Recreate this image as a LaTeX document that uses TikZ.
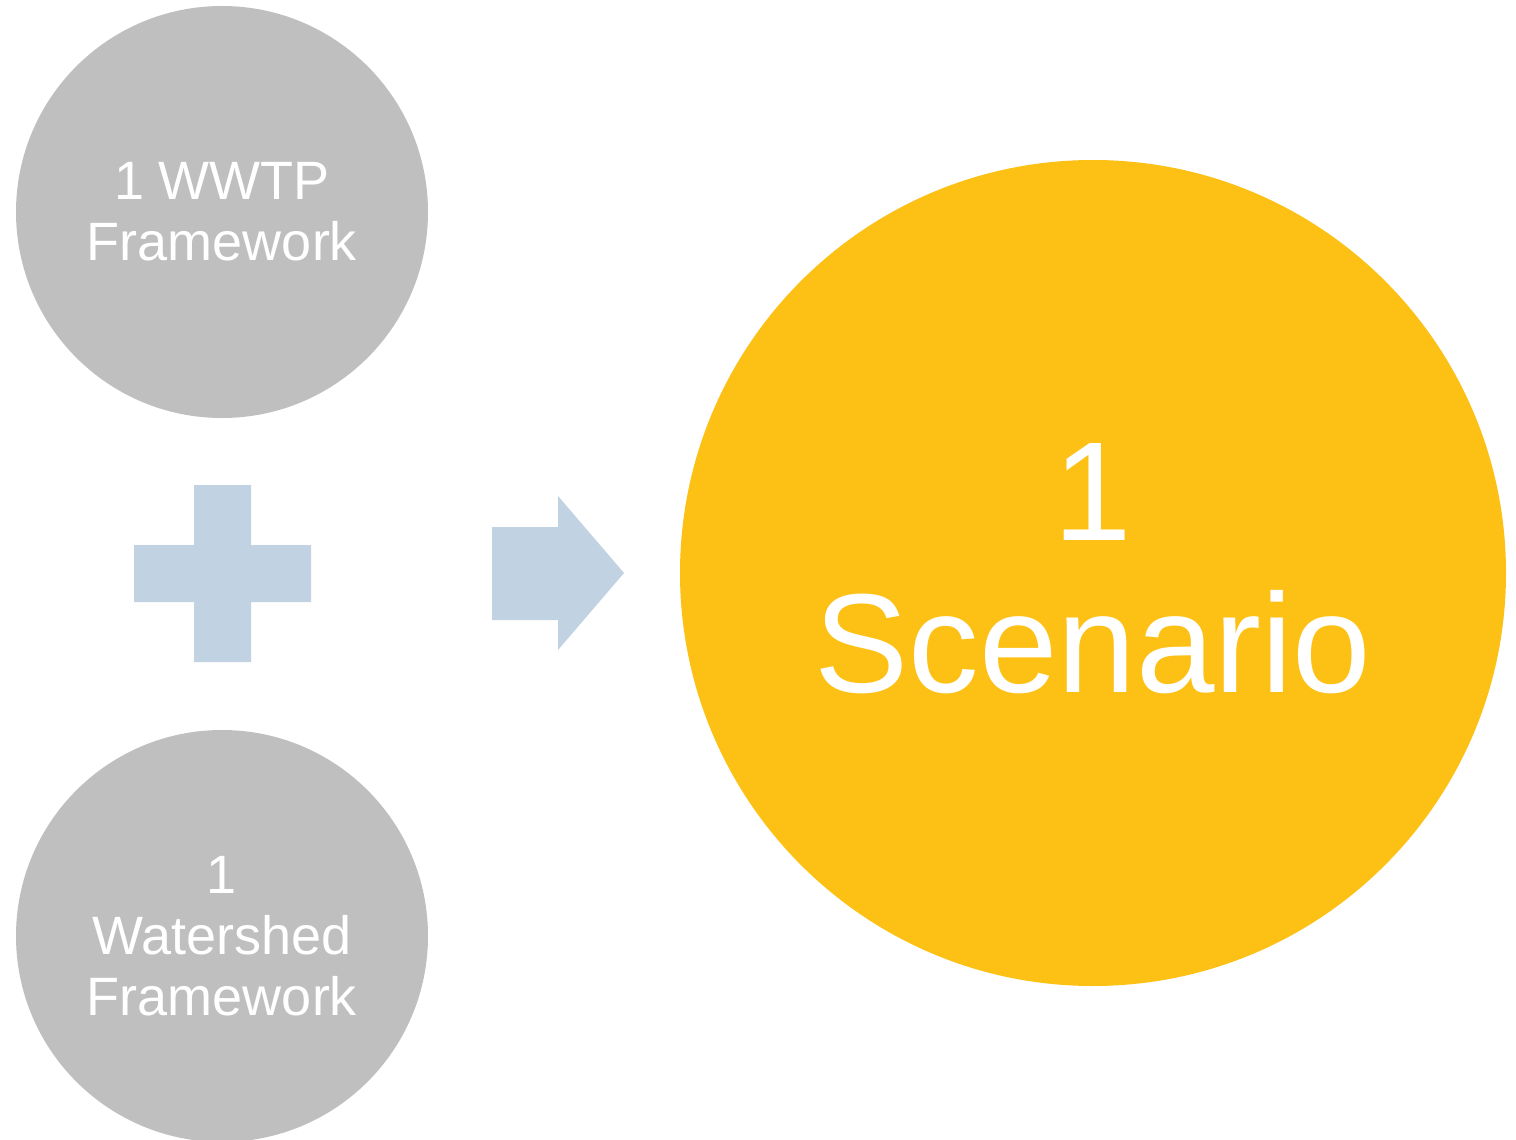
\documentclass[tikz,border=0pt]{standalone}
\usepackage{fontspec}
\setmainfont{Liberation Sans}
\definecolor{cgray}{HTML}{BFBFBF}
\definecolor{cyellow}{HTML}{FDC014}
\definecolor{cblue}{HTML}{C1D2E3}
\tikzset{
  frame/.style={circle, fill=cgray, minimum size=412pt, inner sep=0pt, text=white, align=center,
    font=\fontsize{54}{61}\selectfont},
  result/.style={circle, fill=cyellow, minimum size=826pt, inner sep=0pt, text=white, align=center,
    font=\fontsize{141}{152}\selectfont},
  symb/.style={fill=cblue, draw=none}
}
\begin{document}
\begin{tikzpicture}[x=1pt,y=-1pt]
\clip (0,0) rectangle (1516,1140);
\fill[white] (0,0) rectangle (1516,1140);
\node[frame] (wwtp) at (222,212) {1 WWTP\\Framework};
\node[frame] (shed) at (222,936) {1\\Watershed\\Framework};
\node[result] (scen) at (1093,573) {};
\node[text=white, align=center, font=\fontsize{141}{152}\selectfont] (scentext) at (1093,569) {1\\Scenario};
% plus sign
\fill[symb] (194,485) -- (251,485) -- (251,545) -- (311,545) -- (311,602) -- (251,602)
  -- (251,662) -- (194,662) -- (194,602) -- (134,602) -- (134,545) -- (194,545) -- cycle;
% arrow
\fill[symb] (492,527) -- (558,527) -- (558,496) -- (624,573) -- (558,650) -- (558,620)
  -- (492,620) -- cycle;
\end{tikzpicture}
\end{document}
